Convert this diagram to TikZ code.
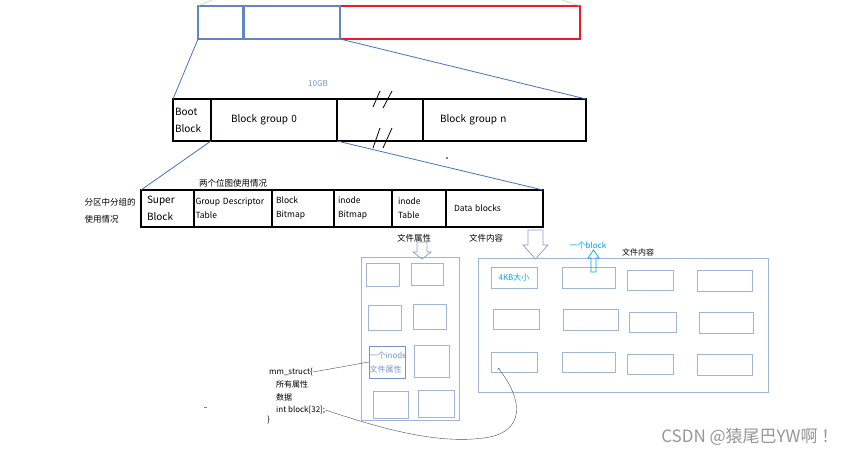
\documentclass[tikz,border=0pt]{standalone}
\usepackage{fontspec}
\setmainfont{Noto Sans CJK SC}
\usetikzlibrary{calc,positioning}

\definecolor{diskred}{RGB}{237,28,36}
\definecolor{partblue}{RGB}{95,135,195}
\definecolor{linkblue}{RGB}{68,114,196}
\definecolor{boxblue}{RGB}{160,180,215}
\definecolor{arrowgray}{RGB}{135,155,195}
\definecolor{textblue}{RGB}{0,162,232}
\definecolor{paleblue}{RGB}{115,150,205}
\definecolor{markgray}{RGB}{150,150,150}

\begin{document}
\begin{tikzpicture}[x=1pt, y=-1pt, node distance=0pt,
    seg/.style={draw, line width=1.2pt, inner ysep=0pt, outer sep=0pt, align=left, anchor=north west},
    part/.style={draw=partblue, line width=1.3pt, inner sep=0pt, outer sep=0pt, anchor=north west},
    cellbox/.style={draw=boxblue, line width=0.8pt, inner sep=0pt, outer sep=0pt, anchor=north west},
    link/.style={linkblue, line width=0.8pt},
    big/.style={font=\fontsize{10}{17}\selectfont},
    small/.style={font=\fontsize{8.5}{14}\selectfont},
    note/.style={font=\fontsize{8.5}{17}\selectfont},
    code/.style={anchor=west, inner sep=0pt, font=\fontsize{8}{10}\selectfont}]
\useasboundingbox (0,0) rectangle (859,457);

% disk
\node[draw=diskred, line width=1.5pt, minimum width=382pt, minimum height=33pt,
      inner sep=0pt, outer sep=0pt, anchor=north west] (disk) at (198,6) {};
\node[part, minimum width=45pt, minimum height=33pt] (pa) at (198,6) {};
\node[part, minimum width=96pt, minimum height=33pt] (pb) at (244,6) {};
\draw[green!50!gray!55] (disk.north west) -- (212,0);
\draw[green!50!gray!55] (disk.north east) -- (562,0);

\node[paleblue, font=\fontsize{8}{10}\selectfont] (size) at (318,84) {10GB};

% partition
\node[seg, big, minimum height=42pt, text width=34pt, inner xsep=2pt] (boot) at (173,99) {Boot\\Block};
\node[seg, big, minimum height=42pt, text width=86pt, inner xsep=20pt, right=0pt of boot] (gb0) {Block group 0};
\node[seg, minimum height=42pt, minimum width=86pt, right=0pt of gb0] (gap) {};
\node[seg, big, minimum height=42pt, text width=129pt, inner xsep=17pt, right=0pt of gap] (gbn) {Block group n};
\draw[thick] (373,107) -- (380,91) (383,108) -- (392,91);
\draw[thick] (373,148) -- (380,128) (383,148) -- (392,128);
\fill (447,158) circle (0.8);

\draw[link] (pa.south west) -- (boot.north west);
\draw[link] (pb.south east) -- (gbn.north east);

% block group
\node[seg, big, minimum height=37pt, text width=41pt, inner xsep=6pt] (super) at (141,190) {Super\\Block};
\node[seg, small, minimum height=37pt, text width=75pt, inner xsep=1.5pt, right=0pt of super] (gdt) {Group~Descriptor\\Table};
\node[seg, small, minimum height=37pt, text width=54pt, inner xsep=4pt, right=0pt of gdt] (bbm) {Block\\Bitmap};
\node[seg, small, minimum height=37pt, text width=50pt, inner xsep=4pt, right=0pt of bbm] (ibm) {inode\\Bitmap};
\node[seg, small, minimum height=37pt, text width=42pt, inner xsep=6pt, right=0pt of ibm] (itab) {inode\\Table};
\node[seg, small, minimum height=37pt, text width=81pt, inner xsep=8pt, right=0pt of itab] (data) {Data blocks};

\draw[link] (gb0.south west) -- (super.north west);
\draw[link] (gb0.south east) -- (data.north east);

\node[note, align=left, anchor=west] (usage) at (81,211) {分区中分组的\\使用情况};
\node[note] (bitmaps) at (233,183) {两个位图使用情况};
\node[note] (attr) at (414,238) {文件属性};
\node[note] (content) at (486,238) {文件内容};

% hollow arrows
\draw[arrowgray, line width=0.7pt] (528,230) -- (543,230) -- (543,245) -- (548,245) -- (535.5,259) -- (523,245) -- (528,245) -- cycle;
\draw[arrowgray, line width=0.7pt] (417,242) -- (427,242) -- (427,252) -- (431,252) -- (422,259) -- (413,252) -- (417,252) -- cycle;

% inode table
\node[cellbox, minimum width=98pt, minimum height=163pt] (itbl) at (361,257) {};
\node[cellbox, minimum width=33pt, minimum height=23pt] (i1) at (366,263) {};
\node[cellbox, minimum width=32pt, minimum height=22pt] (i2) at (411,263) {};
\node[cellbox, minimum width=33pt, minimum height=25pt] (i3) at (368,305) {};
\node[cellbox, minimum width=33pt, minimum height=25pt] (i4) at (413,304) {};
\node[cellbox, minimum height=32pt, text width=35pt, inner xsep=0.5pt, align=left,
      paleblue, text=paleblue, font=\fontsize{8}{14}\selectfont] (ino) at (369,346) {一个inode\\文件属性};
\node[cellbox, minimum width=35pt, minimum height=32pt] (i6) at (414,345) {};
\node[cellbox, minimum width=35pt, minimum height=27pt] (i7) at (373,391) {};
\node[cellbox, minimum width=36pt, minimum height=27pt] (i8) at (418,390) {};

% data blocks
\node[cellbox, minimum width=290pt, minimum height=134pt] (dblk) at (478,258) {};
\node[cellbox, minimum width=46pt, minimum height=21pt, text=textblue, font=\fontsize{8}{10}\selectfont] (d11) at (491,267) {4KB大小};
\node[cellbox, minimum width=53pt, minimum height=21pt] (d12) at (562,267) {};
\node[cellbox, minimum width=46pt, minimum height=20pt] (d13) at (627,270) {};
\node[cellbox, minimum width=55pt, minimum height=21pt] (d14) at (697,270) {};
\node[cellbox, minimum width=46pt, minimum height=20pt] (d21) at (493,309) {};
\node[cellbox, minimum width=55pt, minimum height=21pt] (d22) at (563,309) {};
\node[cellbox, minimum width=47pt, minimum height=20pt] (d23) at (629,312) {};
\node[cellbox, minimum width=54pt, minimum height=21pt] (d24) at (699,312) {};
\node[cellbox, minimum width=46pt, minimum height=20pt] (d31) at (491,352) {};
\node[cellbox, minimum width=53pt, minimum height=20pt] (d32) at (562,352) {};
\node[cellbox, minimum width=46pt, minimum height=20pt] (d33) at (627,354) {};
\node[cellbox, minimum width=55pt, minimum height=21pt] (d34) at (697,354) {};

\node[text=textblue, font=\fontsize{8}{10}\selectfont] (oneblk) at (588,245) {一个block};
\node[font=\fontsize{8}{10}\selectfont] (content2) at (638,252) {文件内容};
\draw[textblue, line width=0.7pt] (591,272) -- (596,272) -- (596,258) -- (599,258) -- (593.5,250) -- (588,258) -- (591,258) -- cycle;

% mm_struct
\node[code] (c1) at (269,372) {mm\_struct\{};
\node[code] (c2) at (276,384) {所有属性};
\node[code] (c3) at (276,397) {数据};
\node[code] (c4) at (276,410) {int block[32];};
\node[code] (c5) at (267,420) {\}};
\fill[partblue] (204,406.5) rectangle (207,408);

\coordinate (tip) at ($(d31.south west)+(7,-4)$);
\draw[black!70] (c1.east) -- (ino.west);
\draw[->, black!70] (c4.east) .. controls (380,428) and (440,446) .. (490,437)
    .. controls (530,428) and (518,392) .. (tip);

\node[markgray, anchor=east, font=\fontsize{17}{20}\selectfont] (mark) at (842,437) {CSDN @猿尾巴YW啊 ！};
\end{tikzpicture}
\end{document}
